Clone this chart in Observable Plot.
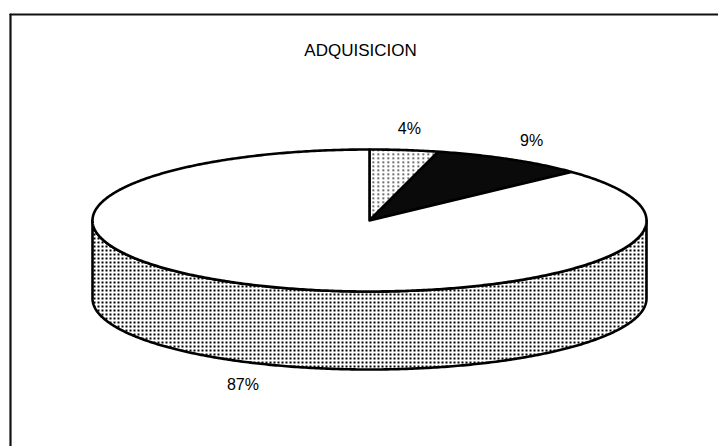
<!DOCTYPE html>
<html>
<head>
<meta charset="utf-8">
<script src="https://cdn.jsdelivr.net/npm/d3@7"></script>
<script src="https://cdn.jsdelivr.net/npm/@observablehq/plot@0.6"></script>
<style>
  html, body { margin: 0; padding: 0; background: #fff; width: 718px; height: 446px; overflow: hidden; }
  #chart { position: absolute; left: 0; top: 0; width: 718px; height: 446px; overflow: hidden; }
  #chart svg { display: block; }
</style>
</head>
<body>
<div id="chart"></div>
<script>
// ---- data ----
const title = ["ADQUISICION"];
const categories = ["A", "B", "C"];
const values = [4, 9, 87];
const labels = ["4%", "9%", "87%"];
const fills = ["url(#dotsLight)", "#0a0a0a", "#ffffff"];

// ---- geometry (layout) ----
const W = 718, H = 446;
const cx = 369, cy = 220, rx = 277, ry = 71, depth = 78;

const total = d3.sum(values);
let acc = 0;
const slices = values.map((v, i) => {
  const a0 = acc / total * 2 * Math.PI;
  acc += v;
  const a1 = acc / total * 2 * Math.PI;
  return {cat: categories[i], value: v, label: labels[i], fill: fills[i], a0, a1};
});
const px = (a) => cx + rx * Math.sin(a);
const py = (a, dz = 0) => cy - ry * Math.cos(a) + dz;

function arcPts(a0, a1, dz = 0) {
  const n = Math.max(2, Math.ceil((a1 - a0) / 0.01));
  return d3.range(n + 1).map(k => {
    const a = a0 + (a1 - a0) * k / n;
    return [px(a), py(a, dz)];
  });
}

// side (front visible part, from right-most to left-most via the bottom)
const sidePts = [];
for (const s of slices) {
  const lo = Math.max(s.a0, Math.PI / 2), hi = Math.min(s.a1, 3 * Math.PI / 2);
  if (hi > lo) {
    const top = arcPts(lo, hi, 0);
    const bot = arcPts(lo, hi, depth).reverse();
    top.concat(bot).forEach(p => sidePts.push({cat: s.cat, x: p[0], y: p[1], fill: "url(#dotsDark)"}));
  }
}

// top wedges
const wedgePts = [];
slices.forEach(s => {
  const pts = [[cx, cy]].concat(arcPts(s.a0, s.a1, 0));
  pts.forEach(p => wedgePts.push({cat: s.cat, x: p[0], y: p[1], fill: s.fill}));
});

// labels
const labelRows = slices.map(s => {
  const m = (s.a0 + s.a1) / 2;
  const front = Math.cos(m) < 0;
  return {
    text: s.label,
    x: cx + rx * 1.15 * Math.sin(m),
    y: cy - ry * 1.3 * Math.cos(m) + (front ? depth + 2 : 0)
  };
});

// outer frame (left and top edges only, as in the scan)
const frameEdges = [
  {edge: "left", x: 10, y: 14}, {edge: "left", x: 10, y: H + 10},
  {edge: "top", x: 10, y: 14}, {edge: "top", x: W + 10, y: 14}
];

const font = "Liberation Sans, Arial, sans-serif";
const plot = Plot.plot({
  width: W, height: H,
  margin: 0,
  x: {domain: [0, W], range: [0, W], axis: null},
  y: {domain: [0, H], range: [0, H], axis: null},
  style: {background: "#fff"},
  marks: [
    Plot.line(frameEdges, {x: "x", y: "y", z: "edge", stroke: "#111", strokeWidth: 2.2}),
    Plot.line(sidePts, {x: "x", y: "y", z: "cat", fill: "fill", stroke: "#000", strokeWidth: 2.6,
      curve: "linear-closed", strokeLinejoin: "round"}),
    Plot.line(wedgePts, {x: "x", y: "y", z: "cat", fill: "fill", stroke: "#000", strokeWidth: 2.6,
      curve: "linear-closed", strokeLinejoin: "round"}),
    Plot.text(labelRows, {x: "x", y: "y", text: "text", fontSize: 16,
      fontFamily: font, fill: "#000"}),
    Plot.text(title, {x: () => 360, y: () => 50, text: d => d, fontSize: 17,
      fontFamily: font, fill: "#000"})
  ]
});

// patterns
const defs = d3.select(plot).insert("defs", ":first-child");
const pd = defs.append("pattern").attr("id", "dotsDark").attr("patternUnits", "userSpaceOnUse")
  .attr("width", 4).attr("height", 4);
pd.append("rect").attr("width", 4).attr("height", 4).attr("fill", "#fff");
pd.append("rect").attr("x", 1).attr("y", 1).attr("width", 2).attr("height", 2).attr("fill", "#000");
const pl = defs.append("pattern").attr("id", "dotsLight").attr("patternUnits", "userSpaceOnUse")
  .attr("width", 5).attr("height", 4);
pl.append("rect").attr("width", 5).attr("height", 4).attr("fill", "#fff");
pl.append("rect").attr("x", 2).attr("y", 1).attr("width", 1.5).attr("height", 1.5).attr("fill", "#000");

document.getElementById("chart").appendChild(plot);
</script>
</body>
</html>
